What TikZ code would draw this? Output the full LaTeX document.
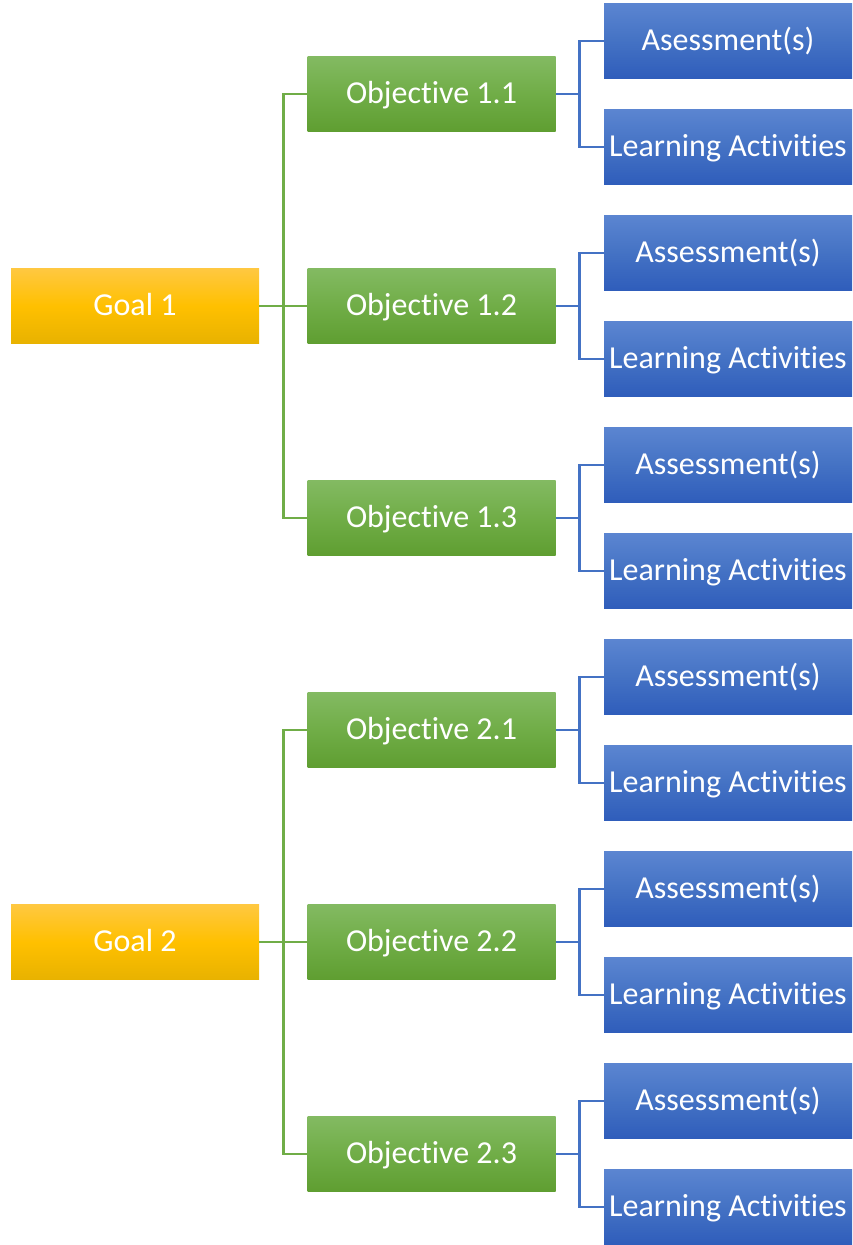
\documentclass[tikz,border=0pt]{standalone}
\usepackage{fontspec}
\setmainfont[Ligatures={NoCommon,NoContextual},RawFeature={-dlig}]{Carlito}
\definecolor{goldT}{HTML}{FFC841}
\definecolor{goldM}{HTML}{FFC000}
\definecolor{goldB}{HTML}{E8B200}
\definecolor{grnT}{HTML}{83BA62}
\definecolor{grnM}{HTML}{70AD47}
\definecolor{grnB}{HTML}{5F9E31}
\definecolor{bluT}{HTML}{5B85D1}
\definecolor{bluM}{HTML}{4472C4}
\definecolor{bluB}{HTML}{2F5DBB}
\definecolor{grnL}{HTML}{70AD47}
\definecolor{bluL}{HTML}{4472C4}
\tikzset{
  box/.style={minimum width=248pt, minimum height=75pt, inner sep=0pt, text=white,
    text height=26pt, text depth=7pt,
    font=\fontsize{32}{38}\selectfont},
  goalbox/.style={box, top color=goldT, bottom color=goldB, middle color=goldM},
  objbox/.style={box, top color=grnT, bottom color=grnB, middle color=grnM},
  leafbox/.style={box, top color=bluT, bottom color=bluB, middle color=bluM},
  gline/.style={draw=grnL, line width=2.7pt},
  bline/.style={draw=bluL, line width=2.7pt}
}
\begin{document}
\begin{tikzpicture}[x=1pt, y=-1pt]
\useasboundingbox (0,0) rectangle (853,1245);
\node[goalbox] (g1) at (135,306) {Goal 1};
\node[goalbox] (g2) at (135,942) {Goal 2};
\foreach \n/\y/\lab/\asm in {11/94/1.1/Asessment(s), 12/306/1.2/Assessment(s), 13/518/1.3/Assessment(s),
  21/730/2.1/Assessment(s), 22/942/2.2/Assessment(s), 23/1154/2.3/Assessment(s)} {
  \node[objbox] (o\n) at (431.5,\y) {Objective \lab};
  \node[leafbox] (a\n) at (728,\y-53) {\asm};
  \node[leafbox] (l\n) at (728,\y+53) {Learning Activities};
  \draw[bline] (o\n.east) -- ++(24,0) coordinate (j\n) |- (a\n.west);
  \draw[bline] (j\n) |- (l\n.west);
}
\draw[gline] (g1.east) -- (o12.west);
\draw[gline] (g1.east) ++(24,0) coordinate (t1) |- (o11.west);
\draw[gline] (t1) |- (o13.west);
\draw[gline] (g2.east) -- (o22.west);
\draw[gline] (g2.east) ++(24,0) coordinate (t2) |- (o21.west);
\draw[gline] (t2) |- (o23.west);
\end{tikzpicture}
\end{document}
